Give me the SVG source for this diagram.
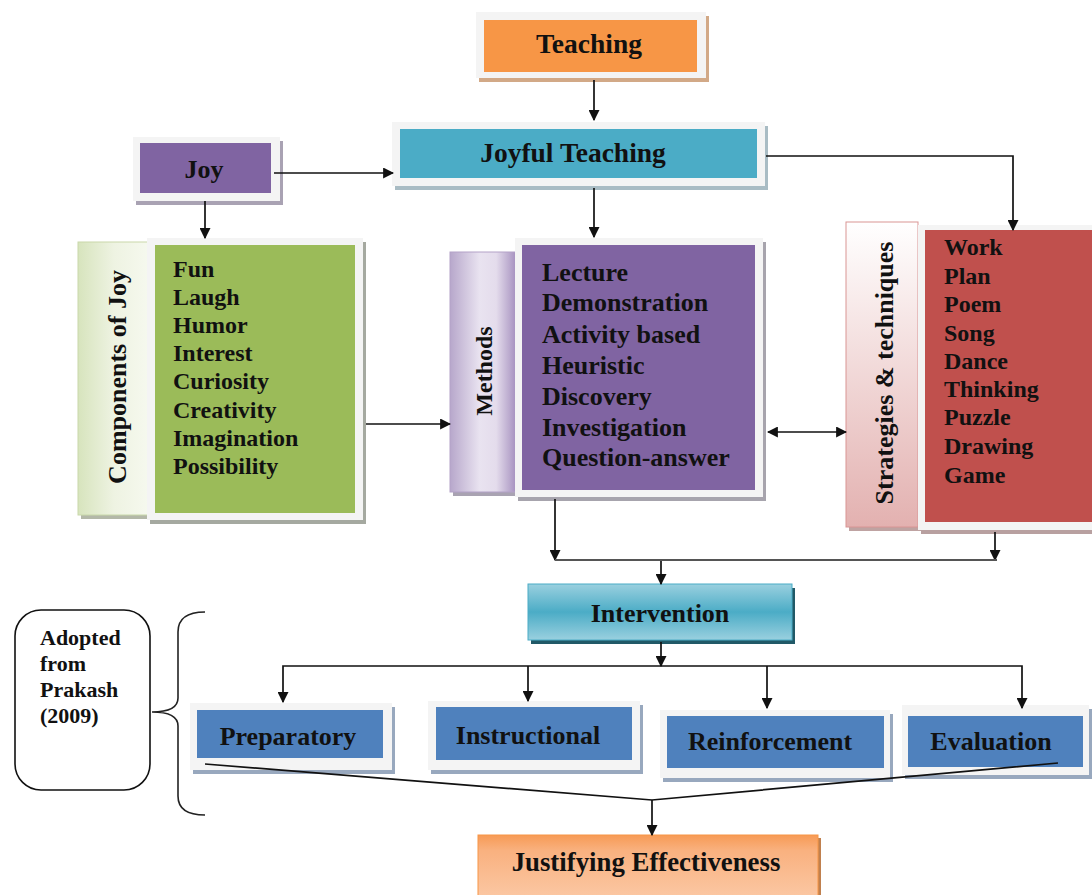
<svg xmlns="http://www.w3.org/2000/svg" width="1092" height="895" viewBox="0 0 1092 895">
  <style>
    .t { font-family: "Liberation Serif", "Times New Roman", serif; font-weight: bold; fill: #111; }
    .lbl { font-size: 26px; text-anchor: middle; dominant-baseline: central; }
    .lst { font-size: 24px; }
    .frame { fill: #F4F4F4; }
    .conn { stroke: #111; stroke-width: 1.7; fill: none; }
    .gline { stroke: #555; stroke-width: 2.2; fill: none; }
  </style>
  <defs>
    <marker id="ah" viewBox="0 0 10 10" refX="9" refY="5" markerWidth="11" markerHeight="11" markerUnits="userSpaceOnUse" orient="auto-start-reverse">
      <path d="M0,0 L10,5 L0,10 z" fill="#111"/>
    </marker>
    <linearGradient id="gGreenSide" x1="0" y1="0" x2="1" y2="0">
      <stop offset="0" stop-color="#D7E4BD"/>
      <stop offset="0.5" stop-color="#EEF3E2"/>
      <stop offset="1" stop-color="#F6F9EF"/>
    </linearGradient>
    <linearGradient id="gPurpleSide" x1="0" y1="0" x2="1" y2="0">
      <stop offset="0" stop-color="#B7A7CB"/>
      <stop offset="0.45" stop-color="#E9E3F0"/>
      <stop offset="0.7" stop-color="#E4DCEC"/>
      <stop offset="1" stop-color="#A691BF"/>
    </linearGradient>
    <linearGradient id="gRedSide" x1="0" y1="0" x2="0" y2="1">
      <stop offset="0" stop-color="#FFFFFF"/>
      <stop offset="1" stop-color="#E3B1B0"/>
    </linearGradient>
    <linearGradient id="gInterv" x1="0" y1="0" x2="0" y2="1">
      <stop offset="0" stop-color="#9AD0DF"/>
      <stop offset="0.5" stop-color="#4BACC6"/>
      <stop offset="1" stop-color="#9AD0DF"/>
    </linearGradient>
    <linearGradient id="gJust" x1="0" y1="0" x2="0" y2="1">
      <stop offset="0" stop-color="#F79A55"/>
      <stop offset="0.25" stop-color="#F9B17F"/>
      <stop offset="1" stop-color="#FBC7A3"/>
    </linearGradient>
  </defs>

  <rect width="1092" height="895" fill="#FFFFFF"/>

  <!-- Teaching -->
  <g id="teaching">
    <rect x="479" y="16" width="230" height="66" fill="#D2A987"/>
    <rect class="frame" x="476" y="12" width="230" height="66"/>
    <rect x="484" y="20" width="213" height="52" fill="#F79646"/>
    <text class="t lbl" x="589" y="43" style="font-size:27.5px">Teaching</text>
  </g>

  <!-- Joyful Teaching -->
  <g id="joyful-teaching">
    <rect x="395" y="126" width="373" height="64" fill="#A9BCC4"/>
    <rect class="frame" x="392" y="122" width="373" height="64"/>
    <rect x="400" y="129" width="357" height="49" fill="#4BACC6"/>
    <text class="t lbl" x="573" y="152" style="font-size:27.5px">Joyful Teaching</text>
  </g>

  <!-- Joy -->
  <g id="joy">
    <rect x="136" y="141" width="147" height="64" fill="#A9A2B3"/>
    <rect class="frame" x="133" y="137" width="147" height="64"/>
    <rect x="140" y="143" width="131" height="50" fill="#8064A2"/>
    <text class="t lbl" x="204" y="169">Joy</text>
  </g>

  <!-- Components of Joy -->
  <g id="components-of-joy">
    <rect x="81" y="246" width="72" height="273" fill="#B3B8A8"/>
    <rect x="78" y="242" width="72" height="273" fill="url(#gGreenSide)" stroke="#C9D8AA" stroke-width="1"/>
    <text class="t lbl" transform="translate(117,377) rotate(-90)">Components of Joy</text>
    <rect x="150" y="242" width="216" height="282" fill="#A5A9A0"/>
    <rect class="frame" x="147" y="238" width="216" height="282"/>
    <rect x="155" y="245" width="200" height="268" fill="#9BBB59"/>
    <text class="t lst">
      <tspan x="173" y="277">Fun</tspan>
      <tspan x="173" y="305">Laugh</tspan>
      <tspan x="173" y="333">Humor</tspan>
      <tspan x="173" y="361">Interest</tspan>
      <tspan x="173" y="389">Curiosity</tspan>
      <tspan x="173" y="418">Creativity</tspan>
      <tspan x="173" y="446">Imagination</tspan>
      <tspan x="173" y="474">Possibility</tspan>
    </text>
  </g>

  <!-- Methods -->
  <g id="methods">
    <rect x="453" y="256" width="66" height="240" fill="#A9A3B2"/>
    <rect x="450" y="252" width="66" height="240" fill="url(#gPurpleSide)" stroke="#B3A2C7" stroke-width="1"/>
    <text class="t lbl" transform="translate(484,371) rotate(-90)" style="font-size:24px">Methods</text>
    <rect x="518" y="242" width="248" height="259" fill="#A7A4AD"/>
    <rect class="frame" x="515" y="238" width="248" height="259"/>
    <rect x="522" y="245" width="233" height="245" fill="#8064A2"/>
    <text class="t lst" style="font-size:26px">
      <tspan x="542" y="281">Lecture</tspan>
      <tspan x="542" y="311">Demonstration</tspan>
      <tspan x="542" y="343">Activity based</tspan>
      <tspan x="542" y="374">Heuristic</tspan>
      <tspan x="542" y="405">Discovery</tspan>
      <tspan x="542" y="436">Investigation</tspan>
      <tspan x="542" y="466">Question-answer</tspan>
    </text>
  </g>

  <!-- Strategies & techniques -->
  <g id="strategies">
    <rect x="849" y="226" width="72" height="305" fill="#BFA3A2"/>
    <rect x="846" y="222" width="72" height="305" fill="url(#gRedSide)" stroke="#D99594" stroke-width="1"/>
    <text class="t lbl" transform="translate(884,373) rotate(-90)">Strategies &amp; techniques</text>
    <rect x="921" y="229" width="174" height="305" fill="#B8A0A0"/>
    <rect class="frame" x="918" y="225" width="174" height="305"/>
    <rect x="925" y="230" width="167" height="292" fill="#C0504D"/>
    <text class="t lst">
      <tspan x="944" y="255">Work</tspan>
      <tspan x="944" y="284">Plan</tspan>
      <tspan x="944" y="312">Poem</tspan>
      <tspan x="944" y="341">Song</tspan>
      <tspan x="944" y="369">Dance</tspan>
      <tspan x="944" y="397">Thinking</tspan>
      <tspan x="944" y="425">Puzzle</tspan>
      <tspan x="944" y="454">Drawing</tspan>
      <tspan x="944" y="483">Game</tspan>
    </text>
  </g>

  <!-- Intervention -->
  <g id="intervention">
    <rect x="531" y="588" width="264" height="56" fill="#215967"/>
    <rect x="528" y="584" width="264" height="56" fill="url(#gInterv)" stroke="#4BACC6" stroke-width="1"/>
    <text class="t lbl" x="660" y="613">Intervention</text>
  </g>

  <!-- Phases -->
  <g id="preparatory">
    <rect x="193" y="707" width="202" height="67" fill="#98A8BE"/>
    <rect class="frame" x="190" y="703" width="202" height="67"/>
    <rect x="197" y="710" width="186" height="48" fill="#4F81BD"/>
    <text class="t lbl" x="288" y="736">Preparatory</text>
  </g>
  <g id="instructional">
    <rect x="431" y="705" width="212" height="69" fill="#98A8BE"/>
    <rect class="frame" x="428" y="701" width="212" height="69"/>
    <rect x="436" y="707" width="196" height="53" fill="#4F81BD"/>
    <text class="t lbl" x="528" y="735">Instructional</text>
  </g>
  <g id="reinforcement">
    <rect x="663" y="714" width="230" height="68" fill="#98A8BE"/>
    <rect class="frame" x="660" y="710" width="230" height="68"/>
    <rect x="667" y="716" width="217" height="52" fill="#4F81BD"/>
    <text class="t lbl" x="770" y="741">Reinforcement</text>
  </g>
  <g id="evaluation">
    <rect x="905" y="709" width="187" height="70" fill="#98A8BE"/>
    <rect class="frame" x="902" y="705" width="187" height="70"/>
    <rect x="908" y="716" width="175" height="51" fill="#4F81BD"/>
    <text class="t lbl" x="991" y="741">Evaluation</text>
  </g>

  <!-- Justifying Effectiveness -->
  <g id="justifying">
    <rect x="481" y="838" width="340" height="60" fill="#C0804E"/>
    <rect x="478" y="835" width="340" height="62" fill="url(#gJust)" stroke="#F79646" stroke-width="1"/>
    <text class="t lbl" x="646" y="862" style="font-size:26.8px">Justifying Effectiveness</text>
  </g>

  <!-- Source note with brace -->
  <g id="source-note">
    <rect x="15" y="610" width="135" height="180" rx="26" ry="26" fill="#FFFFFF" stroke="#111" stroke-width="1.6"/>
    <text class="t" font-size="22">
      <tspan x="40" y="645">Adopted</tspan>
      <tspan x="40" y="671">from</tspan>
      <tspan x="40" y="697">Prakash</tspan>
      <tspan x="40" y="723">(2009)</tspan>
    </text>
    <path d="M205,612 Q178,612 178,632 L178,698 Q178,712 152,712 Q178,712 178,726 L178,796 Q178,815 205,815" fill="none" stroke="#222" stroke-width="1.6"/>
  </g>

  <!-- connectors, drawn over the boxes -->
  <g id="connectors">
    <line class="conn" x1="594" y1="80" x2="594" y2="120" marker-end="url(#ah)"/>
    <line class="conn" x1="274" y1="173" x2="393" y2="173" marker-end="url(#ah)"/>
    <line class="conn" x1="205" y1="201" x2="205" y2="238" marker-end="url(#ah)"/>
    <line class="conn" x1="594" y1="188" x2="594" y2="237" marker-end="url(#ah)"/>
    <polyline class="conn" points="766,156 1013,156 1013,230" marker-end="url(#ah)"/>
    <line class="conn" x1="366" y1="424" x2="450" y2="424" marker-end="url(#ah)"/>
    <line class="conn" x1="768" y1="432" x2="846" y2="432" marker-start="url(#ah)" marker-end="url(#ah)"/>
    <line class="conn" x1="555" y1="499" x2="555" y2="560" marker-end="url(#ah)"/>
    <line class="conn" x1="995" y1="532" x2="995" y2="560" marker-end="url(#ah)"/>
    <line class="gline" x1="555" y1="560" x2="997" y2="560"/>
    <line class="conn" x1="661" y1="561" x2="661" y2="584" marker-end="url(#ah)"/>
    <line class="conn" x1="661" y1="642" x2="661" y2="666" marker-end="url(#ah)"/>
    <polyline class="conn" points="283,702 283,666 1022,666 1022,708" marker-start="url(#ah)" marker-end="url(#ah)"/>
    <line class="conn" x1="528" y1="666" x2="528" y2="701" marker-end="url(#ah)"/>
    <line class="conn" x1="767" y1="666" x2="767" y2="708" marker-end="url(#ah)"/>
    <polyline class="conn" points="205,764 652,800 1058,763"/>
    <line class="conn" x1="652" y1="800" x2="652" y2="835" marker-end="url(#ah)"/>
  </g>
</svg>
